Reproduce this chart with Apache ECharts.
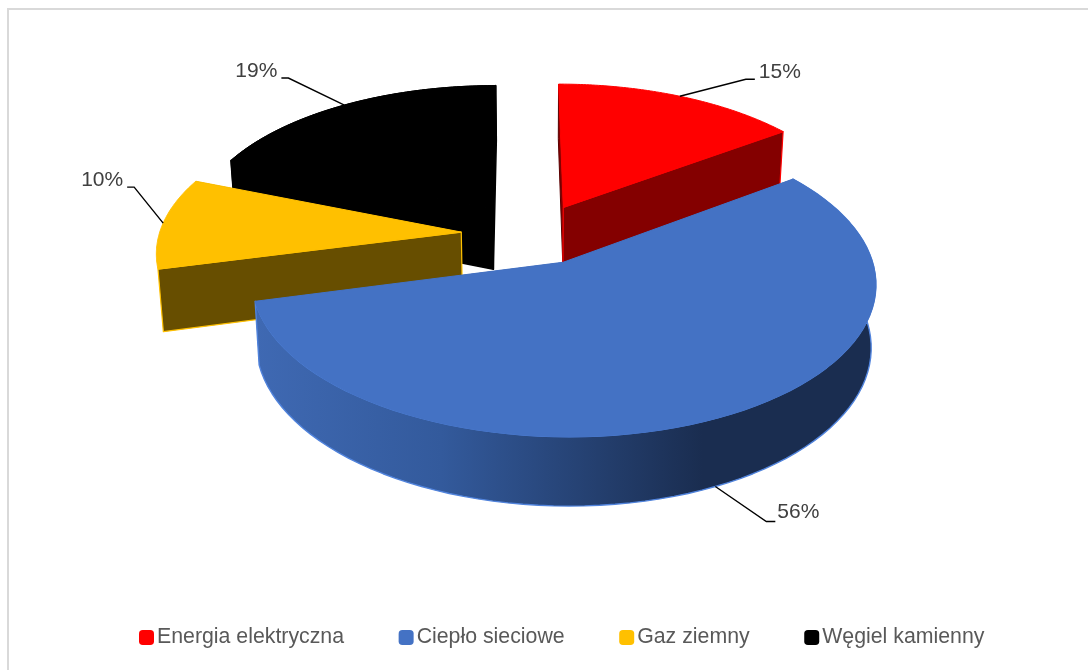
<!DOCTYPE html>
<html><head><meta charset="utf-8">
<style>html,body{margin:0;padding:0;background:#fff}#c{width:1088px;height:670px}</style>
<script src="https://cdn.jsdelivr.net/npm/echarts@6/dist/echarts.min.js"></script>
</head><body><div id="c"></div>
<script>
const categories = ['Energia elektryczna', 'Ciepło sieciowe', 'Gaz ziemny', 'Węgiel kamienny'];
const shares = [15, 56, 10, 19];
const colors = ['#ff0000', '#4472c4', '#ffc000', '#000000'];
const wallColors = ['#840000', '#2a4a80', '#674e00', '#000000'];
const paintOrder = [3, 0, 2, 1];

// View of the tilted pie: perspective projection of the unit disc
const view = { cx: 532, cy: 234, rx: 302, ry: 145, persp: 0.125, shear: 0.01, explodeX: 0.235, explodeY: 0.21, depth: 61, shrink: 0.986, vanishX: 540 };
const labelOffsets = [
  { elbow: [66, -17], end: [75, -17], text: [79, -24], wall: false },
  { elbow: [51, 35], end: [60, 35], text: [62, 26], wall: true },
  { elbow: [-29, -36], end: [-36, -36], text: [-40, -43], wall: false },
  { elbow: [-56, -27], end: [-63, -27], text: [-67, -34], wall: false }
];

function project(u, v) {
  const w = 1 + view.persp * v;
  const sy = view.cy - view.ry * v / w;
  const sx = view.cx + view.rx * u / w + view.shear * (sy - view.cy);
  return [sx, sy];
}
function projectBottom(u, v) {
  const p = project(u, v), w = 1 + view.persp * v;
  return [view.vanishX + (p[0] - view.vanishX) * view.shrink, p[1] + view.depth / Math.pow(w, 0.8)];
}
const total = shares.reduce((a, b) => a + b, 0);
function sliceGeom(idx) {
  let before = 0;
  for (let i = 0; i < idx; i++) before += shares[i];
  const a0 = before / total * 2 * Math.PI, a1 = (before + shares[idx]) / total * 2 * Math.PI, mid = (a0 + a1) / 2;
  const ox = view.explodeX * Math.sin(mid), oy = view.explodeY * Math.cos(mid);
  const pt = (a) => [ox + Math.sin(a), oy + Math.cos(a)];
  const arc = [];
  const n = 80;
  for (let i = 0; i <= n; i++) arc.push(pt(a0 + (a1 - a0) * i / n));
  return { ox, oy, arc, midPt: pt(mid) };
}
function polygon(points, fill, stroke, lw) {
  return { type: 'polygon', shape: { points }, style: { fill, stroke: stroke || 'none', lineWidth: lw === undefined ? 1 : lw, lineJoin: 'round' } };
}
function renderer(idx) {
  return function () {
    const g = sliceGeom(idx);
    const apexT = project(g.ox, g.oy), apexB = projectBottom(g.ox, g.oy);
    const topArc = g.arc.map(p => project(p[0], p[1]));
    const botArc = g.arc.map(p => projectBottom(p[0], p[1]));
    const last = topArc.length - 1;
    const children = [];
    const rimStroke = idx === 0 ? colors[0] : idx === 2 ? colors[2] : wallColors[idx];
    const startWall = [apexT, topArc[0], botArc[0], apexB];
    const endWall = [apexT, topArc[last], botArc[last], apexB];
    // the radial wall turned towards the viewer is painted after the rim
    const frontWall = idx === 0 ? endWall : idx === 2 ? startWall : null;
    const backWall = idx === 0 ? startWall : idx === 2 ? endWall : null;
    if (backWall) children.push(polygon(backWall, wallColors[idx], idx === 0 ? '#5a0000' : null));
    if (!frontWall && !backWall) {
      const s = idx === 3 ? '#000' : null;
      children.push(polygon(startWall, wallColors[idx], s, 1.5));
      children.push(polygon(endWall, wallColors[idx], s, 1.5));
    }
    let wallFill = wallColors[idx];
    if (idx === 1) {
      wallFill = new echarts.graphic.LinearGradient(0, 0, 1, 0, [
        { offset: 0, color: '#3f69b3' },
        { offset: 0.3, color: '#335a9c' },
        { offset: 0.72, color: '#1a2d50' },
        { offset: 1, color: '#1a2d50' }
      ]);
    }
    const wall = topArc.concat(botArc.slice().reverse());
    if (idx === 1) children.push(polygon(wall, wallFill, '#5083dc', 1.4));
    else if (idx === 3) children.push(polygon(wall, wallFill, '#000'));
    if (frontWall) children.push(polygon(frontWall, wallColors[idx], rimStroke, 1.2));
    children.push(polygon([apexT].concat(topArc), colors[idx], colors[idx], 1));
    // leader line and percent label
    const o = labelOffsets[idx];
    const anchor = (o.wall ? projectBottom : project)(g.midPt[0], g.midPt[1]);
    const add = (d) => [anchor[0] + d[0], anchor[1] + d[1]];
    children.push({ type: 'polyline', shape: { points: [anchor, add(o.elbow), add(o.end)] }, style: { fill: null, stroke: '#000', lineWidth: 1.4 }, z2: 5 });
    const t = add(o.text);
    children.push({ type: 'text', x: t[0], y: t[1], z2: 6, style: {
      text: shares[idx] + '%', fill: '#404040', font: '21px "Liberation Sans", Arial, sans-serif',
      align: o.text[0] > 0 ? 'left' : 'right', verticalAlign: 'middle' } });
    return { type: 'group', children };
  };
}
const chart = echarts.init(document.getElementById('c'), null, { renderer: 'canvas' });
chart.setOption({
  animation: false,
  backgroundColor: '#fff',
  graphic: [{ type: 'polyline', shape: { points: [[8, 670], [8, 9], [1088, 9]] }, style: { fill: 'none', stroke: '#d9d9d9', lineWidth: 2 }, silent: true, z: -1 }],
  legend: {
    data: categories, left: 139, top: 627, padding: 0, icon: 'roundRect', itemWidth: 15, itemHeight: 15, itemGap: 54.6,
    textStyle: { fontFamily: '"Liberation Sans", Arial, sans-serif', fontSize: 21.3, color: '#595959', padding: [0, 0, 0, -2] }, selectedMode: false
  },
  series: categories.map((name, idx) => ({
    type: 'custom', name, coordinateSystem: 'none', z: 2 + paintOrder.indexOf(idx), clip: false,
    itemStyle: { color: colors[idx] }, data: [shares[idx]], renderItem: renderer(idx), silent: true
  }))
});
</script></body></html>
